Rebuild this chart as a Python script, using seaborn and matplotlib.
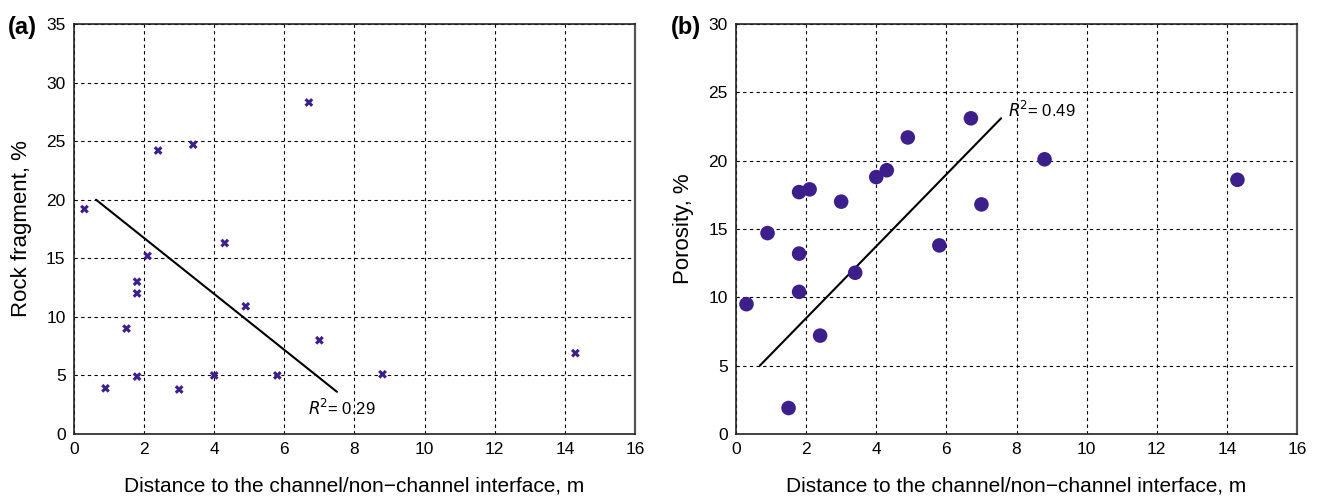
import numpy as np
import pandas as pd
import matplotlib.pyplot as plt
import seaborn as sns

# distance to channel/non-channel interface (m), same wells in both panels
distance = [0.3, 0.9, 1.5, 1.8, 1.8, 1.8, 2.1, 2.4, 3.0, 3.4, 4.0, 4.3, 4.9, 5.8, 6.7, 7.0, 8.8, 14.3]

# (a) rock fragment, %
rock_x = [0.3, 0.9, 1.5, 1.8, 1.8, 1.8, 2.1, 2.4, 3.0, 3.4, 4.0, 4.3, 4.9, 5.8, 6.7, 7.0, 8.8, 14.3]
rock_y = [19.2, 3.9, 9.0, 13.0, 12.0, 4.9, 15.2, 24.2, 3.8, 24.7, 5.0, 16.3, 10.9, 5.0, 28.3, 8.0, 5.1, 6.9]

# (b) porosity, %
poro_x = distance
poro_y = [9.5, 14.7, 1.9, 17.7, 13.2, 10.4, 17.9, 7.2, 17.0, 11.8, 18.8, 19.3, 21.7, 13.8, 23.1, 16.8, 20.1, 18.6]

# trend lines as drawn in the figure
trend_a_x = [0.63, 7.5]
trend_a_y = [20.0, 3.6]
trend_b_x = [0.68, 7.56]
trend_b_y = [5.0, 23.1]

df_a = pd.DataFrame({'dist': rock_x, 'val': rock_y})
df_b = pd.DataFrame({'dist': poro_x, 'val': poro_y})

sns.set_style('white')
plt.rcParams['font.family'] = ['Liberation Sans', 'DejaVu Sans']
plt.rcParams['text.color'] = 'black'
plt.rcParams['axes.labelcolor'] = 'black'
plt.rcParams['xtick.color'] = 'black'
plt.rcParams['ytick.color'] = 'black'

purple = '#3d1f8c'
xlabel = 'Distance to the channel/non\u2212channel interface, m'

fig = plt.figure(figsize=(13.18, 4.96), dpi=100)
ax1 = fig.add_axes([0.0561, 0.125, 0.4257, 0.8266])
ax2 = fig.add_axes([0.5584, 0.125, 0.4257, 0.8266])

sns.scatterplot(data=df_a, x='dist', y='val', ax=ax1, marker='X', s=40,
                color=purple, edgecolor='none', zorder=3)
sns.lineplot(x=trend_a_x, y=trend_a_y, ax=ax1, color='black', lw=1.5, zorder=2)
ax1.set_xlim(0, 16)
ax1.set_ylim(0, 35)
ax1.set_xticks(range(0, 17, 2))
ax1.set_yticks(range(0, 36, 5))
ax1.set_ylabel('Rock fragment, %', fontsize=16, labelpad=10)
ax1.text(6.67, 2.2, r'$\it{R}$$^2$= 0.29', fontsize=12, va='center')
fig.text(0.006, 0.945, '(a)', fontsize=17, fontweight='bold', va='center')

sns.scatterplot(data=df_b, x='dist', y='val', ax=ax2, marker='o', s=110,
                color=purple, edgecolor='none', zorder=3)
sns.lineplot(x=trend_b_x, y=trend_b_y, ax=ax2, color='black', lw=1.5, zorder=2)
ax2.set_xlim(0, 16)
ax2.set_ylim(0, 30)
ax2.set_xticks(range(0, 17, 2))
ax2.set_yticks(range(0, 31, 5))
ax2.set_ylabel('Porosity, %', fontsize=16, labelpad=10)
ax2.text(7.76, 23.7, r'$\it{R}$$^2$= 0.49', fontsize=12, va='center')
fig.text(0.509, 0.945, '(b)', fontsize=17, fontweight='bold', va='center')

for ax in (ax1, ax2):
    ax.set_xlabel(xlabel, fontsize=15, labelpad=14)
    ax.grid(True, color='black', linestyle=(0, (3, 3)), linewidth=0.8)
    ax.set_axisbelow(True)
    ax.tick_params(axis='both', length=0, labelsize=12.5, pad=6)
    for side in ['left', 'bottom', 'top']:
        ax.spines[side].set_color('#222222')
        ax.spines[side].set_linewidth(1.2)
    ax.spines['right'].set_color('#555555')
    ax.spines['right'].set_linewidth(1.6)

plt.savefig('out.png', dpi=100)
